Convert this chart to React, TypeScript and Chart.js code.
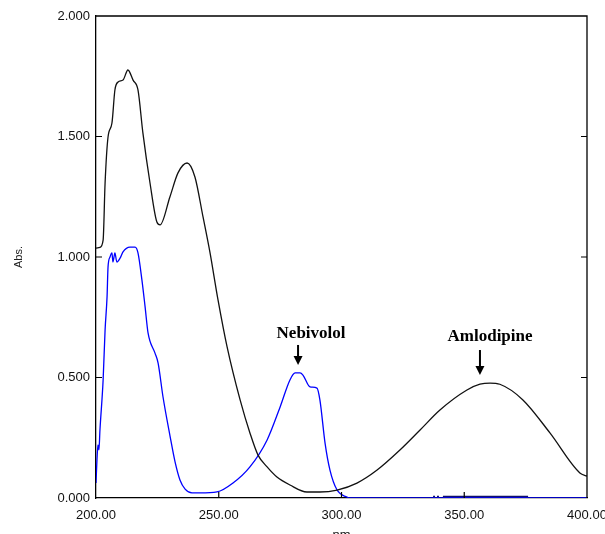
import React, { useEffect, useRef } from "react";
import { Chart, registerables } from "chart.js";

Chart.register(...registerables);

// Wavelength (nm) and absorbance of the black spectrum (mixture / amlodipine)
const blackWavelengths = [
  200, 201.6, 202.9, 203.7, 204.9, 206.5, 207.7, 209.0, 211.0, 213.0, 215.1, 217.1,
  219.1, 222.0, 224.8, 226.1, 230.1, 233.4, 237.1, 240.3, 243.6, 246.4, 249.7, 253.4,
  258.7, 262.7, 266.0, 269.7, 273.7, 279.0, 285.9, 291.2, 298.2, 306.3,
  314.5, 323.8, 332.0, 340.1, 351.1, 356.4, 360.5, 364.5, 373.9, 384.9, 397.1, 400,
];
const blackAbs = [
  1.037, 1.04, 1.07, 1.307, 1.498, 1.556, 1.693, 1.726, 1.734, 1.776, 1.734, 1.693,
  1.515, 1.307, 1.145, 1.133, 1.249, 1.349, 1.39, 1.332, 1.166, 1.02, 0.822, 0.627,
  0.407, 0.27, 0.178, 0.129, 0.087, 0.054, 0.025, 0.025, 0.033, 0.062,
  0.116, 0.199, 0.282, 0.365, 0.448, 0.472, 0.477, 0.472, 0.407, 0.27, 0.104, 0.091,
];

// Blue spectrum (nebivolol)
const blueWavelengths = [
  200, 200.4, 200.8, 201.2, 201.6, 202.9, 203.7, 204.5, 204.9, 205.7, 206.5, 206.9,
  207.7, 208.5, 209.8, 211.0, 213.8, 215.9, 217.1, 218.7, 220.0, 221.2, 224.0, 225.3,
  227.3, 230.1, 232.2, 234.2, 236.3, 239.1, 242.4, 249.3, 255.8, 262.7, 269.7, 275.0,
  279.0, 281.1, 283.1, 284.3, 287.2, 290.0, 291.2, 293.3, 295.3, 298.2, 302.2, 303.5, 400,
];
const blueAbs = [
  0.062, 0.16, 0.22, 0.2, 0.28, 0.49, 0.697, 0.834, 0.958, 1.0, 1.017, 0.979,
  1.017, 0.979, 0.995, 1.021, 1.041, 1.041, 1.017, 0.905, 0.793, 0.685, 0.602, 0.56,
  0.419, 0.26, 0.15, 0.075, 0.037, 0.021, 0.021, 0.025, 0.062, 0.129, 0.241, 0.378,
  0.49, 0.519, 0.519, 0.51, 0.461, 0.456, 0.407, 0.228, 0.116, 0.033, 0.004, 0, 0,
];

// Small dark baseline noise segment near zero
const noiseWavelengths = [337.3, 338.1, 338.5, 338.9, 339.7, 340.5, 341.3, 376.0];
const noiseAbs = [0.004, 0.004, null, 0.004, 0.004, null, 0.004, 0.004];

const xTicks = [200, 250, 300, 350, 400];
const yTicks = [0, 0.5, 1.0, 1.5, 2.0];

// Annotation labels: text, label anchor (nm, Abs), arrow x (nm), arrow from/to (Abs)
const annotationTexts = ["Nebivolol", "Amlodipine"];
const annotationTextX = [287.6, 360.5];
const annotationTextY = [0.664, 0.651];
const annotationArrowX = [282.3, 356.4];
const annotationArrowTop = [0.635, 0.614];
const annotationArrowTip = [0.552, 0.51];

const toPoints = (xs: number[], ys: (number | null)[]) =>
  xs.map((x, i) => ({ x, y: ys[i] }));

const framePlugin = {
  id: "frame",
  afterDatasetsDraw(chart: any) {
    const { ctx, chartArea, scales } = chart;
    const { left, right, top, bottom } = chartArea;
    ctx.save();
    ctx.strokeStyle = "#000";
    ctx.lineWidth = 1.3;
    ctx.beginPath();
    ctx.moveTo(left, top);
    ctx.lineTo(right, top);
    ctx.lineTo(right, bottom);
    ctx.stroke();
    ctx.lineWidth = 1.2;
    // inward ticks on y (both sides)
    yTicks.forEach((v) => {
      if (v <= 0 || v >= 2) return;
      const py = scales.y.getPixelForValue(v);
      ctx.beginPath();
      ctx.moveTo(left, py);
      ctx.lineTo(left + 6, py);
      ctx.moveTo(right, py);
      ctx.lineTo(right - 6, py);
      ctx.stroke();
    });
    xTicks.forEach((v) => {
      if (v <= 200 || v >= 400) return;
      const px = scales.x.getPixelForValue(v);
      ctx.beginPath();
      ctx.moveTo(px, bottom);
      ctx.lineTo(px, bottom - 6);
      ctx.stroke();
    });
    // annotations
    ctx.fillStyle = "#000";
    ctx.font = "bold 17px 'Liberation Serif', 'Times New Roman', serif";
    ctx.textAlign = "center";
    ctx.textBaseline = "alphabetic";
    annotationTexts.forEach((t, i) => {
      const tx = scales.x.getPixelForValue(annotationTextX[i]);
      const ty = scales.y.getPixelForValue(annotationTextY[i]);
      ctx.fillText(t, tx, ty);
      const ax = scales.x.getPixelForValue(annotationArrowX[i]);
      const ay0 = scales.y.getPixelForValue(annotationArrowTop[i]);
      const ay1 = scales.y.getPixelForValue(annotationArrowTip[i]);
      ctx.lineWidth = 2;
      ctx.beginPath();
      ctx.moveTo(ax, ay0);
      ctx.lineTo(ax, ay1 - 6);
      ctx.stroke();
      ctx.beginPath();
      ctx.moveTo(ax - 4.5, ay1 - 9);
      ctx.lineTo(ax + 4.5, ay1 - 9);
      ctx.lineTo(ax, ay1);
      ctx.closePath();
      ctx.fill();
    });
    ctx.restore();
  },
};

export default function App() {
  const canvasRef = useRef<HTMLCanvasElement | null>(null);

  useEffect(() => {
    if (!canvasRef.current) return;
    const tickFont = { family: "'Liberation Sans', Arial, sans-serif", size: 13 };
    const chart = new Chart(canvasRef.current, {
      type: "line",
      data: {
        datasets: [
          {
            label: "Mixture",
            data: toPoints(blackWavelengths, blackAbs),
            borderColor: "#111111",
            borderWidth: 1.3,
            pointRadius: 0,
            cubicInterpolationMode: "monotone",
            fill: false,
          },
          {
            label: "Nebivolol",
            data: toPoints(blueWavelengths, blueAbs),
            borderColor: "#0000ff",
            borderWidth: 1.3,
            pointRadius: 0,
            cubicInterpolationMode: "monotone",
            fill: false,
          },
          {
            label: "Noise",
            data: toPoints(noiseWavelengths, noiseAbs),
            borderColor: "#10106a",
            borderWidth: 2.5,
            pointRadius: 0,
            spanGaps: false,
            fill: false,
          },
        ],
      } as any,
      options: {
        animation: false,
        responsive: false,
        maintainAspectRatio: false,
        layout: { padding: { top: 16, right: 18, bottom: 0, left: 0 } },
        plugins: { legend: { display: false }, tooltip: { enabled: false } },
        scales: {
          x: {
            type: "linear",
            min: 200,
            max: 400,
            afterBuildTicks: (scale: any) => {
              scale.ticks = xTicks.map((v) => ({ value: v }));
            },
            afterFit: (scale: any) => {
              scale.height = 36;
              scale.paddingLeft = 0;
              scale.paddingRight = 0;
            },
            ticks: {
              maxRotation: 0,
              autoSkip: false,
              padding: 10,
              color: "#111",
              font: tickFont,
              callback: (v: any) => Number(v).toFixed(2),
            },
            grid: { display: false, drawTicks: false },
            border: { display: true, color: "#000", width: 1.3 },
            title: {
              display: true,
              text: "nm",
              color: "#111",
              font: tickFont,
              padding: { top: 0, bottom: -9 },
            },
          },
          y: {
            type: "linear",
            min: 0,
            max: 2,
            afterBuildTicks: (scale: any) => {
              scale.ticks = yTicks.map((v) => ({ value: v }));
            },
            afterFit: (scale: any) => {
              scale.width = 96;
              scale.paddingTop = 0;
              scale.paddingBottom = 0;
            },
            ticks: {
              padding: 6,
              color: "#111",
              font: tickFont,
              callback: (v: any) => Number(v).toFixed(3),
            },
            grid: { display: false, drawTicks: false },
            border: { display: true, color: "#000", width: 1.3 },
            title: {
              display: true,
              text: "Abs.",
              color: "#222",
              font: { family: "'Liberation Sans', Arial, sans-serif", size: 11 },
              padding: { top: 12, bottom: 0 },
            },
          },
        },
      } as any,
      plugins: [framePlugin],
    });
    return () => chart.destroy();
  }, []);

  return (
    <div style={{ position: "fixed", left: 0, top: 0, width: 605, height: 534, background: "#fff" }}>
      <canvas ref={canvasRef} width={605} height={534} style={{ width: 605, height: 534, display: "block" }} />
    </div>
  );
}
